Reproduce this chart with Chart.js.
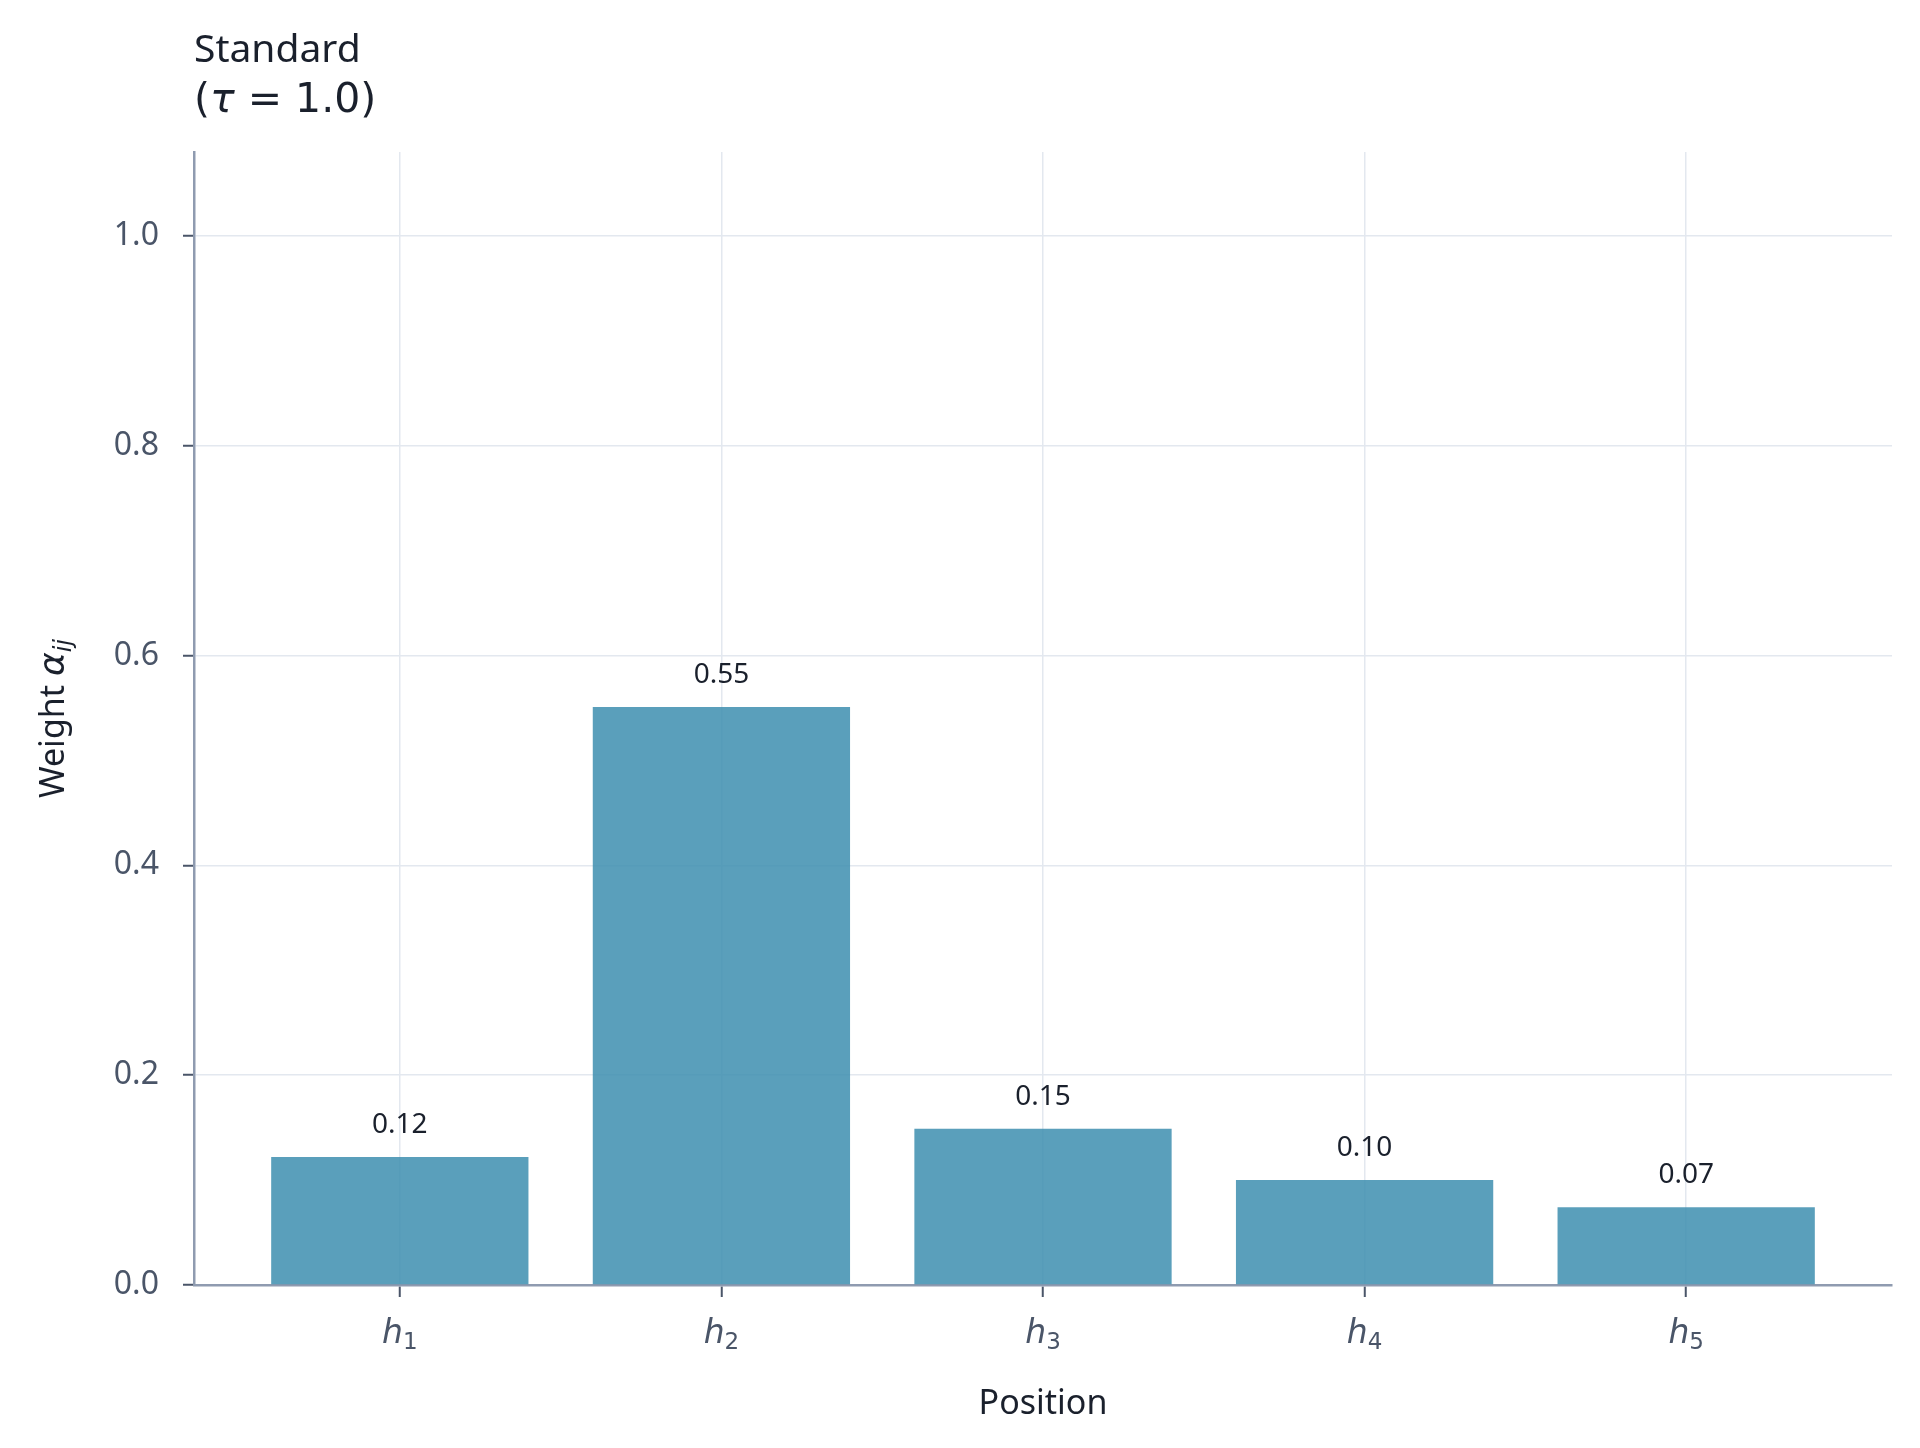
<!DOCTYPE html>
<html>
<head>
<meta charset="utf-8">
<script src="https://cdn.jsdelivr.net/npm/chart.js@4.4.1/dist/chart.umd.min.js"></script>
<style>
  html, body { margin: 0; padding: 0; background: #fff; }
  #wrap { width: 1920px; height: 1448px; }
</style>
</head>
<body>
<div id="wrap"><canvas id="chart" width="1920" height="1448"></canvas></div>
<script>
const positions = ['h₁', 'h₂', 'h₃', 'h₄', 'h₅'];
const weights = [0.122, 0.551, 0.149, 0.100, 0.074];
const weightLabels = ['0.12', '0.55', '0.15', '0.10', '0.07'];
const yTicks = [0, 0.2, 0.4, 0.6, 0.8, 1.0];
const titleLine = 'Standard';
const tauLine = ['(', 'τ', ' = 1.0)'];

const FONT = "'Noto Sans', 'DejaVu Sans', sans-serif";
const MATH = "'DejaVu Sans', sans-serif";
const AXIS = '#8f9bb0';
const GRID = '#e3e8ef';
const SUB = ['₁', '₂', '₃', '₄', '₅'];

// draw a run of [text, font, dy] parts starting at x
function drawRuns(ctx, runs, x, y) {
  runs.forEach(([t, f, dy]) => {
    ctx.font = f;
    ctx.fillText(t, x, y + (dy || 0));
    x += ctx.measureText(t).width;
  });
}
function runsWidth(ctx, runs) {
  return runs.reduce((w, [t, f]) => { ctx.font = f; return w + ctx.measureText(t).width; }, 0);
}

// title, math-style tick labels and y title
const textPlugin = {
  id: 'mathText',
  afterDraw(chart) {
    const { ctx, chartArea, scales } = chart;
    ctx.save();
    ctx.textAlign = 'left';
    ctx.textBaseline = 'alphabetic';

    ctx.fillStyle = '#1a202c';
    ctx.font = `39px ${FONT}`;
    ctx.fillText(titleLine, chartArea.left, 62);
    drawRuns(ctx, tauLine.map((p, i) => [p, (i === 1 ? 'italic ' : '') + `41px ${MATH}`]), chartArea.left, 112);

    // x tick labels: italic h with upright subscript digit
    ctx.fillStyle = '#4a5568';
    positions.forEach((label, i) => {
      const runs = [['h', `italic 33px ${MATH}`, 0], [label.replace('h', '').replace(SUB[i], String(i + 1)), `23px ${MATH}`, 6]];
      const w = runsWidth(ctx, runs);
      drawRuns(ctx, runs, scales.x.getPixelForValue(i) - w / 2, 1343);
    });

    // y title rotated
    ctx.fillStyle = '#1a202c';
    const yRuns = [['Weight ', `34px ${FONT}`, 0], ['α', `italic 36px ${MATH}`, 0], ['ij', `italic 24px ${MATH}`, 7]];
    const yw = runsWidth(ctx, yRuns);
    ctx.translate(64, (chartArea.top + chartArea.bottom) / 2);
    ctx.rotate(-Math.PI / 2);
    drawRuns(ctx, yRuns, -yw / 2, 0);
    ctx.restore();
  }
};

// value labels above each bar
const valueLabels = {
  id: 'valueLabels',
  afterDatasetsDraw(chart) {
    const { ctx } = chart;
    const meta = chart.getDatasetMeta(0);
    ctx.save();
    ctx.fillStyle = '#1a202c';
    ctx.font = `28px ${FONT}`;
    ctx.textAlign = 'center';
    ctx.textBaseline = 'alphabetic';
    meta.data.forEach((bar, i) => {
      ctx.fillText(weightLabels[i], bar.x, bar.y - 24);
    });
    ctx.restore();
  }
};

new Chart(document.getElementById('chart'), {
  type: 'bar',
  data: {
    datasets: [{
      data: weights.map((w, i) => ({ x: i, y: w })),
      backgroundColor: 'rgba(61, 142, 175, 0.85)',
      borderWidth: 0,
      categoryPercentage: 1,
      barPercentage: 0.8,
    }]
  },
  options: {
    responsive: false,
    devicePixelRatio: 1,
    animation: false,
    layout: { padding: { top: 152, right: 28, left: 0, bottom: 0 } },
    plugins: {
      legend: { display: false },
      tooltip: { enabled: false },
    },
    scales: {
      x: {
        type: 'linear',
        min: -0.64,
        max: 4.64,
        offset: false,
        afterBuildTicks: (s) => { s.ticks = positions.map((_, i) => ({ value: i })); },
        afterFit: (s) => { s.height = 163; },
        border: { color: AXIS, width: 2.5 },
        grid: { offset: false, color: GRID, lineWidth: 1.5, tickLength: 12, tickColor: '#4a5568', tickWidth: 2 },
        ticks: {
          display: false,
        },
        title: {
          display: true,
          text: 'Position',
          color: '#1a202c',
          font: { family: FONT, size: 34 },
          padding: { top: 0, bottom: 23 },
        }
      },
      y: {
        min: 0,
        max: 1.08,
        afterBuildTicks: (s) => { s.ticks = yTicks.map(v => ({ value: v })); },
        afterFit: (s) => { s.width = 194; },
        border: { color: AXIS, width: 2.5 },
        grid: { color: GRID, lineWidth: 1.5, tickLength: 11, tickColor: '#4a5568', tickWidth: 2 },
        ticks: {
          color: '#4a5568',
          font: { family: FONT, size: 32 },
          padding: 24,
          callback: (v) => v.toFixed(1),
        },
        title: { display: false }
      }
    }
  },
  plugins: [textPlugin, valueLabels]
});
</script>
</body>
</html>
